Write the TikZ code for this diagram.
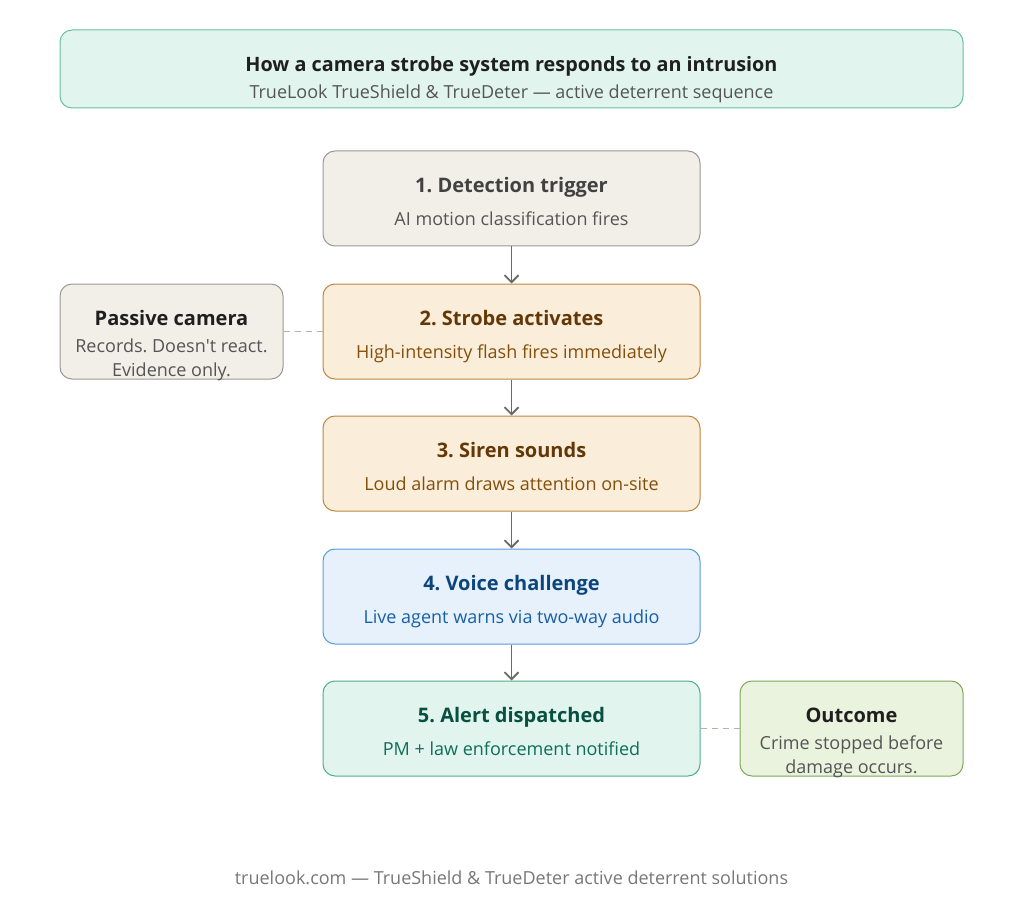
\documentclass[tikz,border=0pt]{standalone}
\usepackage{fontspec}
\setmainfont{Open Sans}
\usetikzlibrary{arrows.meta}

\definecolor{hdrfill}{HTML}{E1F5EE}
\definecolor{hdrline}{HTML}{6DBF9F}
\definecolor{grayfill}{HTML}{F1EFE8}
\definecolor{grayline}{HTML}{9A9992}
\definecolor{orfill}{HTML}{FAEEDA}
\definecolor{orline}{HTML}{C0873E}
\definecolor{ortitle}{HTML}{633806}
\definecolor{orsub}{HTML}{854F0B}
\definecolor{blfill}{HTML}{E6F1FB}
\definecolor{blline}{HTML}{5B9BD9}
\definecolor{bltitle}{HTML}{0C447C}
\definecolor{blsub}{HTML}{185FA5}
\definecolor{gnfill}{HTML}{E1F5EE}
\definecolor{gnline}{HTML}{4FAF8C}
\definecolor{gntitle}{HTML}{085041}
\definecolor{gnsub}{HTML}{0F6E56}
\definecolor{okfill}{HTML}{EAF3DE}
\definecolor{okline}{HTML}{7FA85A}
\definecolor{ink}{HTML}{1F1F1F}
\definecolor{inksub}{HTML}{555555}
\definecolor{flowgray}{HTML}{6B6A64}
\definecolor{dashgray}{HTML}{B4B2A9}

\begin{document}
\frenchspacing
\begin{tikzpicture}
[x=0.5pt,y=-0.5pt,
 box/.style={draw, rounded corners=6pt, line width=0.5pt, inner sep=0pt,
   minimum width=188.5pt, minimum height=47.5pt},
 side/.style={draw, rounded corners=6pt, line width=0.5pt, inner sep=0pt,
   minimum width=111.5pt, minimum height=47.5pt},
 ttl/.style={anchor=base, font=\fontsize{10}{12}\selectfont\bfseries},
 sub/.style={anchor=base, font=\fontsize{9}{11}\selectfont},
 flow/.style={draw=flowgray, line width=0.9pt, -{Straight Barb[length=3.5pt,width=7pt]}},
 link/.style={draw=dashgray, line width=0.5pt, dash pattern=on 3pt off 2.5pt}]
\useasboundingbox (0,0) rectangle (1024,904);

% header
\node[draw=hdrline, fill=hdrfill, rounded corners=6pt, line width=0.5pt,
  minimum width=451.5pt, minimum height=39pt] (header) at (511.5,69) {};
\node[anchor=base, text=ink, font=\fontsize{9.9}{12}\selectfont\bfseries]
  (headtitle) at (511.5,72) {How a camera strobe system responds to an intrusion};
\node[anchor=base, text=inksub, font=\fontsize{9}{11}\selectfont]
  (headsub) at (511.5,99) {TrueLook TrueShield \& TrueDeter — active deterrent sequence};

% steps
\node[box, draw=grayline, fill=grayfill] (det) at (511.5,198.5) {};
\node[ttl, text=ink!85] at (511.5,192.5) {1. Detection trigger};
\node[sub, text=inksub] at (511.5,225.5) {AI motion classification fires};

\node[box, draw=orline, fill=orfill] (strobe) at (511.5,331.5) {};
\node[ttl, text=ortitle] at (511.5,325.5) {2. Strobe activates};
\node[sub, text=orsub] at (511.5,358.5) {High-intensity flash fires immediately};

\node[box, draw=orline, fill=orfill] (siren) at (511.5,463.5) {};
\node[ttl, text=ortitle] at (511.5,457.5) {3. Siren sounds};
\node[sub, text=orsub] at (511.5,490.5) {Loud alarm draws attention on-site};

\node[box, draw=blline, fill=blfill] (voice) at (511.5,596.5) {};
\node[ttl, text=bltitle] at (511.5,590.5) {4. Voice challenge};
\node[sub, text=blsub] at (511.5,623.5) {Live agent warns via two-way audio};

\node[box, draw=gnline, fill=gnfill] (alert) at (511.5,728.5) {};
\node[ttl, text=gntitle] at (511.5,722.5) {5. Alert dispatched};
\node[sub, text=gnsub] at (511.5,755.5) {PM + law enforcement notified};

% side notes
\node[side, draw=grayline, fill=grayfill] (passive) at (171.5,331.5) {};
\node[ttl, text=ink] at (171.5,325.5) {Passive camera};
\node[sub, text=inksub] at (171.5,352.5) {Records. Doesn\textquotesingle t react.};
\node[sub, text=inksub] at (171.5,376.5) {Evidence only.};

\node[side, draw=okline, fill=okfill] (outcome) at (851.5,728.5) {};
\node[ttl, text=ink] at (851.5,722.5) {Outcome};
\node[sub, text=inksub] at (851.5,749.5) {Crime stopped before};
\node[sub, text=inksub] at (851.5,773.5) {damage occurs.};

% connectors
\draw[flow] (det) -- (strobe);
\draw[flow] (strobe) -- (siren);
\draw[flow] (siren) -- (voice);
\draw[flow] (voice) -- (alert);
\draw[link] (passive) -- (strobe);
\draw[link] (alert) -- (outcome);

\node[anchor=base, text=inksub!80, font=\fontsize{9}{11}\selectfont]
  (footer) at (511.5,884) {truelook.com — TrueShield \& TrueDeter active deterrent solutions};
\end{tikzpicture}
\end{document}
